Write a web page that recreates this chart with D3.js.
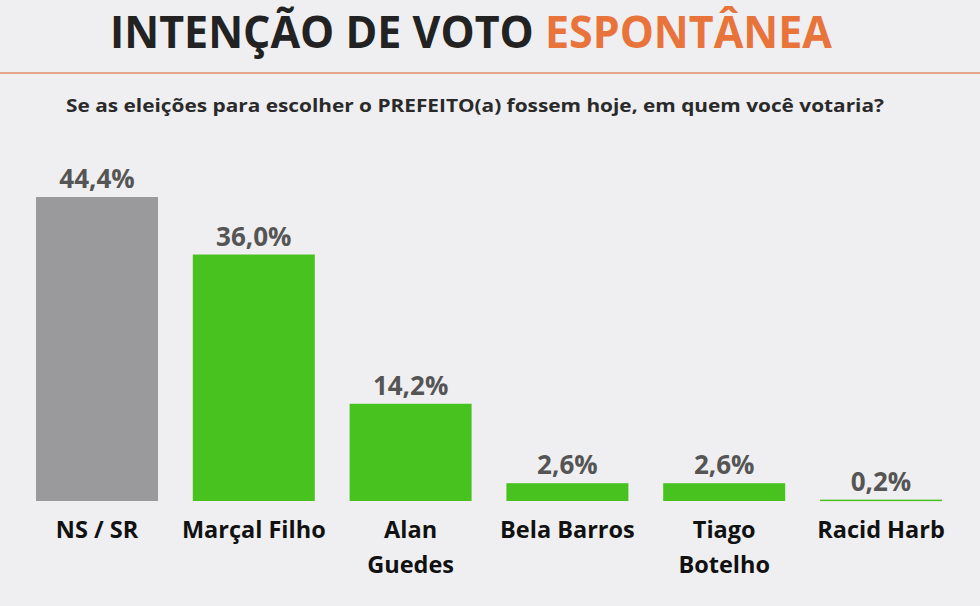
<!DOCTYPE html>
<html>
<head>
<meta charset="utf-8">
<script src="https://cdn.jsdelivr.net/npm/d3@7"></script>
<style>
  body { margin: 0; background: #efeff1; }
  svg { display: block; font-family: "Open Sans", sans-serif; }
</style>
</head>
<body>
<div id="chart"></div>
<script>
// values
const candidates = ['NS / SR', 'Marçal Filho', 'Alan Guedes', 'Bela Barros', 'Tiago Botelho', 'Racid Harb'];
const labelLines = [['NS / SR'], ['Marçal Filho'], ['Alan', 'Guedes'], ['Bela Barros'], ['Tiago', 'Botelho'], ['Racid Harb']];
const votes = [44.4, 36.0, 14.2, 2.6, 2.6, 0.2];
const voteLabels = ['44,4%', '36,0%', '14,2%', '2,6%', '2,6%', '0,2%'];

const width = 980, height = 606;
const baseY = 501;

const svg = d3.select('#chart')
  .append('svg')
  .attr('width', width)
  .attr('height', height);

svg.append('rect')
  .attr('width', width)
  .attr('height', height)
  .attr('fill', '#efeff1');

// title
const title = svg.append('text')
  .attr('x', 471)
  .attr('y', 48)
  .attr('text-anchor', 'middle')
  .attr('font-size', 44)
  .attr('font-weight', 700)
  .attr('textLength', 722)
  .attr('lengthAdjust', 'spacingAndGlyphs');
title.append('tspan').attr('fill', '#222').text('INTENÇÃO DE VOTO ');
title.append('tspan').attr('fill', '#e8743b').text('ESPONTÂNEA');

svg.append('line')
  .attr('x1', 0).attr('x2', width)
  .attr('y1', 73).attr('y2', 73)
  .attr('stroke', '#e9a58a')
  .attr('stroke-width', 2);

svg.append('text')
  .attr('x', 475)
  .attr('y', 112)
  .attr('text-anchor', 'middle')
  .attr('font-size', 17)
  .attr('font-weight', 700)
  .attr('fill', '#2a2a2a')
  .attr('textLength', 818)
  .attr('lengthAdjust', 'spacingAndGlyphs')
  .text('Se as eleições para escolher o PREFEITO(a) fossem hoje, em quem você votaria?');

// scales
const xScale = d3.scaleBand()
  .domain(candidates)
  .range([18.6, 959.4])
  .paddingInner(0.222)
  .paddingOuter(0.111);

const yScale = d3.scaleLinear()
  .domain([0, 44.4])
  .range([baseY, 197]);

const data = candidates.map((c, i) => ({ name: c, value: votes[i], label: voteLabels[i], lines: labelLines[i] }));

svg.selectAll('.bar')
  .data(data)
  .join('rect')
  .attr('class', 'bar')
  .attr('x', d => xScale(d.name))
  .attr('y', d => yScale(d.value))
  .attr('width', xScale.bandwidth())
  .attr('height', d => Math.max(1.5, baseY - yScale(d.value)))
  .attr('fill', (d, i) => i === 0 ? '#9a999b' : '#47c21e');

svg.selectAll('.value-label')
  .data(data)
  .join('text')
  .attr('class', 'value-label')
  .attr('x', d => xScale(d.name) + xScale.bandwidth() / 2)
  .attr('y', d => yScale(d.value) - 9)
  .attr('text-anchor', 'middle')
  .attr('font-size', 26)
  .attr('font-weight', 700)
  .attr('fill', '#555')
  .text(d => d.label);

const catLabels = svg.selectAll('.cat-label')
  .data(data)
  .join('text')
  .attr('class', 'cat-label')
  .attr('x', d => xScale(d.name) + xScale.bandwidth() / 2)
  .attr('y', 538)
  .attr('text-anchor', 'middle')
  .attr('font-size', 23.5)
  .attr('font-weight', 700)
  .attr('fill', '#111');

catLabels.selectAll('tspan')
  .data(d => d.lines.map(l => ({ text: l, x: xScale(d.name) + xScale.bandwidth() / 2 })))
  .join('tspan')
  .attr('x', d => d.x)
  .attr('dy', (d, i) => i === 0 ? 0 : 35)
  .text(d => d.text);
</script>
</body>
</html>
